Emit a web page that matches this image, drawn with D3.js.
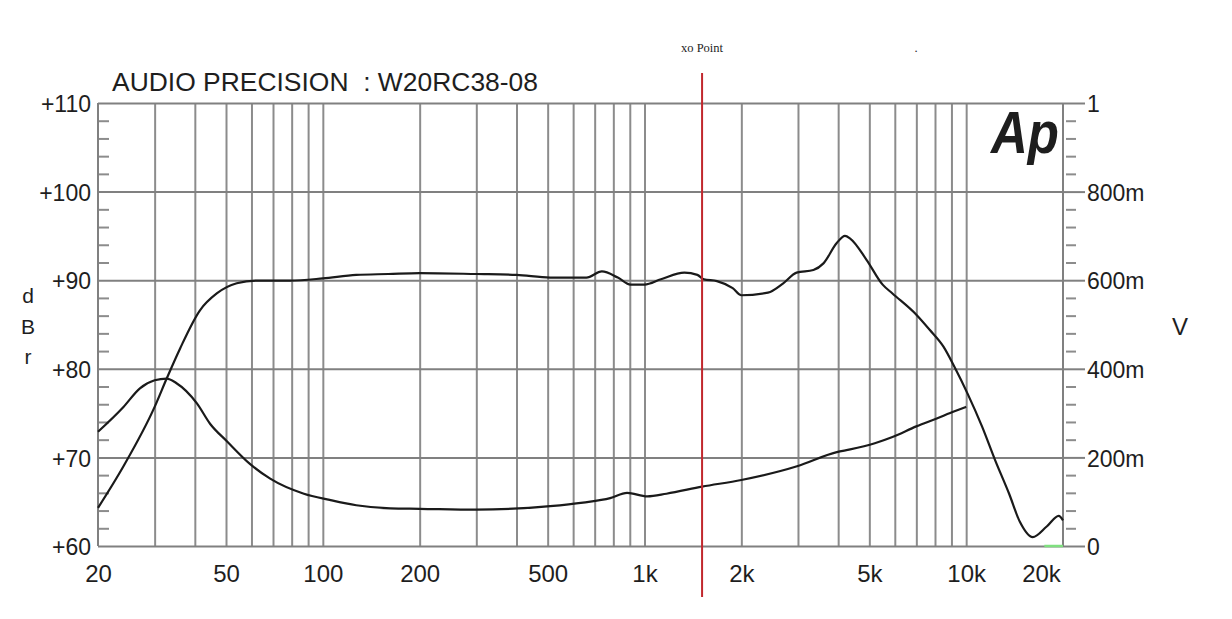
<!DOCTYPE html>
<html><head><meta charset="utf-8">
<script src="https://cdn.jsdelivr.net/npm/d3@7"></script>
<style>
body{margin:0;background:#fff}
svg{display:block;background:#fff}
text{font-family:"Liberation Sans",Arial,sans-serif;fill:#1e1e1e}
</style></head><body>
<svg id="c" width="1232" height="619"></svg>
<script>
// Frequency response (dBr, left axis)
const respFreq = [20,24,30,32.7,36,41.5,46.8,54,62,79,100,127,160,200,300,400,509,660,737,826,905,1000,1125,1330,1460,1530,1680,1880,2000,2420,2700,2970,3350,3600,3960,4200,4360,4900,5500,5900,7000,7700,8500,9200,10100,11200,12300,13600,14700,16100,17800,19400,20000];
const respDb   = [64.3,69.0,75.7,78.9,82.3,86.6,88.5,89.65,89.95,89.95,90.2,90.6,90.7,90.8,90.7,90.6,90.3,90.3,91.0,90.3,89.5,89.5,90.1,90.85,90.6,90.1,89.9,89.1,88.3,88.6,89.65,90.85,91.15,91.9,94.2,95.0,94.7,92.3,89.5,88.5,86.1,84.4,82.5,80.2,77.2,73.5,69.7,65.9,62.7,61.0,62.2,63.4,62.9];
// Impedance trace (V, right axis)
const impFreq = [20,24,27,30,32.7,35,40.6,44.6,50.4,59.2,68.6,87.3,105,127,162,200,300,509,644,782,883,1020,1170,1510,2000,2980,3960,4360,5200,5900,7000,8100,9200,10000];
const impV    = [0.258,0.314,0.356,0.374,0.378,0.368,0.322,0.276,0.236,0.186,0.152,0.118,0.104,0.092,0.085,0.084,0.082,0.090,0.098,0.108,0.120,0.112,0.118,0.134,0.149,0.180,0.212,0.218,0.232,0.246,0.270,0.288,0.304,0.314];
// Third trace (green, at 0 V)
const greenFreq = [17500,20000];
const greenV    = [0,0];
// Axes
const xLabelFreqs = [20,50,100,200,500,1000,2000,5000,10000,20000];
const xLabelText  = ["20","50","100","200","500","1k","2k","5k","10k","20k"];
const xGridFreqs  = [30,40,50,60,70,80,90,100,200,300,400,500,600,700,800,900,1000,2000,3000,4000,5000,6000,7000,8000,9000,10000];
const dbTicks = [60,70,80,90,100,110];
const vTicks  = [0,0.2,0.4,0.6,0.8,1];
const vLabels = ["0","200m","400m","600m","800m","1"];
const xoFreq = 1510;
const titleText = "AUDIO PRECISION  : W20RC38-08";

const svg = d3.select("#c");
const L=98, R=1063, T=103, B=546;
const x = d3.scaleLog().domain([20,20000]).range([L,R]);
const y = d3.scaleLinear().domain([60,110]).range([B,T]);
const yV = d3.scaleLinear().domain([0,1]).range([B,T]);
const gridCol = "#8c8c8c";

// vertical gridlines
svg.append("g").attr("transform",`translate(0,${B})`)
  .call(d3.axisBottom(x).tickValues(xGridFreqs).tickSize(-(B-T)).tickFormat(""))
  .call(g=>g.select(".domain").remove())
  .call(g=>g.selectAll("line").attr("stroke",gridCol).attr("stroke-width",2));

// horizontal gridlines + left labels
svg.append("g").attr("transform",`translate(${L},0)`)
  .call(d3.axisLeft(y).tickValues(dbTicks).tickSize(-(R-L)).tickPadding(7).tickFormat(d=>"+"+d))
  .call(g=>g.select(".domain").remove())
  .call(g=>g.selectAll("line").attr("stroke","#808080").attr("stroke-width",2))
  .call(g=>g.selectAll("text").attr("font-size",23).attr("dy","0.38em").attr("fill","#1e1e1e")
        .style("font-family","'Liberation Sans',Arial,sans-serif"));

// left minor ticks
svg.append("g").attr("transform",`translate(${L},0)`)
  .call(d3.axisLeft(y).tickValues(d3.range(62,110,2).filter(v=>v%10!==0)).tickSize(-11).tickFormat(""))
  .call(g=>g.select(".domain").remove())
  .call(g=>g.selectAll("line").attr("stroke",gridCol).attr("stroke-width",2));

// right axis major ticks + labels
svg.append("g").attr("transform",`translate(${R},0)`)
  .call(d3.axisRight(yV).tickValues(vTicks).tickSize(22).tickPadding(2).tickFormat((d,i)=>vLabels[i]))
  .call(g=>g.select(".domain").remove())
  .call(g=>g.selectAll("line").attr("stroke","#808080").attr("stroke-width",2))
  .call(g=>g.selectAll("text").attr("font-size",23).attr("dy","0.38em").attr("fill","#1e1e1e")
        .style("font-family","'Liberation Sans',Arial,sans-serif"));

// right minor ticks
svg.append("g").attr("transform",`translate(${R+3},0)`)
  .call(d3.axisRight(yV).tickValues(d3.range(1,25).map(i=>i*0.04).filter((v,i)=>(i+1)%5!==0)).tickSize(10).tickFormat(""))
  .call(g=>g.select(".domain").remove())
  .call(g=>g.selectAll("line").attr("stroke",gridCol).attr("stroke-width",2));

// frame verticals
svg.append("line").attr("x1",x(20)).attr("x2",x(20)).attr("y1",y(110)).attr("y2",y(60)).attr("stroke","#808080").attr("stroke-width",2);
svg.append("line").attr("x1",x(20000)).attr("x2",x(20000)).attr("y1",y(110)).attr("y2",y(60)).attr("stroke","#808080").attr("stroke-width",2);

// bottom labels
svg.append("g").attr("transform",`translate(0,${B})`)
  .call(d3.axisBottom(x).tickValues(xLabelFreqs).tickSize(0).tickPadding(19).tickFormat((d,i)=>xLabelText[i]))
  .call(g=>g.select(".domain").remove())
  .call(g=>g.selectAll("text").attr("font-size",24).attr("fill","#1e1e1e")
        .style("font-family","'Liberation Sans',Arial,sans-serif"))
  .call(g=>g.selectAll("text").filter((d)=>d===20000).attr("x",-22));

// curves
const respLine = d3.line().x(d=>x(d[0])).y(d=>y(d[1])).curve(d3.curveMonotoneX);
const vLine = d3.line().x(d=>x(d[0])).y(d=>yV(d[1])).curve(d3.curveMonotoneX);
svg.append("path").datum(greenFreq.map((f,i)=>[f,greenV[i]])).attr("d",vLine)
  .attr("fill","none").attr("stroke","#7fe07f").attr("stroke-width",2.5);
svg.append("path").datum(impFreq.map((f,i)=>[f,impV[i]])).attr("d",vLine)
  .attr("fill","none").attr("stroke","#1a1a1a").attr("stroke-width",2.2).attr("stroke-linejoin","round");
svg.append("path").datum(respFreq.map((f,i)=>[f,respDb[i]])).attr("d",respLine)
  .attr("fill","none").attr("stroke","#1a1a1a").attr("stroke-width",2.2).attr("stroke-linejoin","round");

// crossover marker
svg.append("line").attr("x1",x(xoFreq)).attr("x2",x(xoFreq)).attr("y1",73).attr("y2",597)
  .attr("stroke","#c1272d").attr("stroke-width",2);
svg.append("text").attr("x",x(xoFreq)).attr("y",52).attr("text-anchor","middle")
  .style("font-family","'Liberation Serif','Times New Roman',serif").attr("font-size",12.5).attr("fill","#111").text("xo Point");
svg.append("text").attr("x",916).attr("y",52).attr("text-anchor","middle")
  .style("font-family","'Liberation Serif','Times New Roman',serif").attr("font-size",12.5).attr("fill","#6a1020").text(".");

// title
svg.append("text").attr("x",112).attr("y",91).attr("font-size",26).attr("textLength",426)
  .attr("lengthAdjust","spacingAndGlyphs").style("white-space","pre").text(titleText);

// Ap logo
svg.append("text").attr("transform","translate(991,153) scale(0.85,1)")
  .attr("font-size",60).attr("font-weight","bold").attr("font-style","italic").attr("fill","#111").text("Ap");

// axis unit labels
["d","B","r"].forEach((c,i)=>{
  svg.append("text").attr("x",28).attr("y",[303,334,364][i]).attr("text-anchor","middle").attr("font-size",21).text(c);
});
svg.append("text").attr("x",1180).attr("y",335).attr("text-anchor","middle").attr("font-size",24).text("V");
</script>
</body></html>
